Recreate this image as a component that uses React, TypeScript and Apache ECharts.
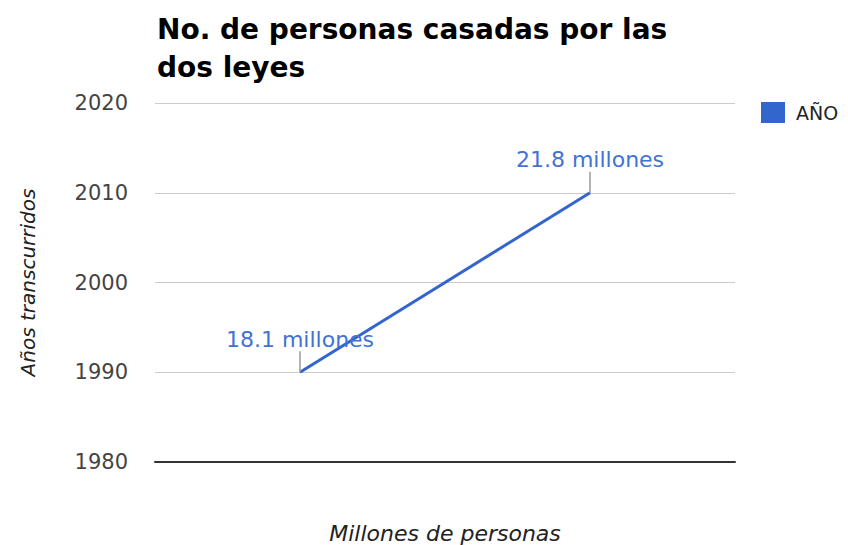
import React, { useEffect, useRef } from "react";
import * as echarts from "echarts";

const titleText = "No. de personas casadas por las\ndos leyes";
const categories = ["18.1 millones", "21.8 millones"];
const years = [1990, 2010];
const annotations = ["18.1 millones", "21.8 millones"];
const seriesName = "AÑO";
const yMin = 1980;
const yMax = 2020;
const yStep = 10;

export default function App() {
  const ref = useRef<HTMLDivElement>(null);
  useEffect(() => {
    document.body.style.margin = "0";
    if (!ref.current) return;
    const chart = echarts.init(ref.current, undefined, { renderer: "svg" });
    const blue = "#3366cc";
    chart.setOption({
      animation: false,
      backgroundColor: "#ffffff",
      title: {
        text: titleText,
        left: 152,
        top: 5,
        textStyle: {
          fontFamily: "DejaVu Sans",
          fontWeight: "bold",
          fontSize: 28,
          lineHeight: 38,
          color: "#000000",
        },
      },
      legend: {
        data: [seriesName],
        left: 761,
        top: 102,
        padding: 0,
        icon: "rect",
        itemWidth: 24,
        itemHeight: 21,
        textStyle: {
          fontFamily: "DejaVu Sans",
          fontSize: 19,
          color: "#222222",
          padding: [0, 0, 0, 6],
        },
      },
      grid: {
        left: 155,
        right: 113,
        top: 103,
        bottom: 83,
        containLabel: false,
        outerBoundsMode: "none",
      },
      xAxis: {
        type: "category",
        data: categories,
        boundaryGap: true,
        axisTick: { show: false },
        axisLabel: { show: false },
        axisLine: { show: true, lineStyle: { color: "#333333", width: 2 } },
        name: "Millones de personas",
        nameLocation: "middle",
        nameGap: 60,
        nameTextStyle: {
          fontFamily: "DejaVu Sans",
          fontStyle: "italic",
          fontSize: 22,
          color: "#222222",
        },
      },
      yAxis: {
        type: "value",
        min: yMin,
        max: yMax,
        interval: yStep,
        axisLine: { show: false },
        axisTick: { show: false },
        splitLine: { show: true, lineStyle: { color: "#cccccc", width: 1 } },
        axisLabel: {
          fontFamily: "DejaVu Sans",
          fontSize: 21,
          color: "#444444",
          margin: 27,
          formatter: (v: number) => String(v),
        },
        name: "Años transcurridos",
        nameLocation: "middle",
        nameGap: 117,
        nameTextStyle: {
          fontFamily: "DejaVu Sans",
          fontStyle: "italic",
          fontSize: 20,
          color: "#222222",
        },
      },
      series: [
        {
          name: seriesName,
          type: "line",
          data: years,
          color: blue,
          lineStyle: { color: blue, width: 3 },
          showSymbol: false,
          symbol: "none",
        },
        {
          type: "custom",
          data: years.map((y, i) => [i, y, annotations[i]]),
          silent: true,
          z: 5,
          renderItem: (params: any, api: any) => {
            const idx = params.dataIndex;
            const pt = api.coord([api.value(0), api.value(1)]);
            const stem = 21;
            return {
              type: "group",
              children: [
                {
                  type: "line",
                  shape: { x1: pt[0], y1: pt[1], x2: pt[0], y2: pt[1] - stem },
                  style: { stroke: "#999999", lineWidth: 1.5 },
                },
                {
                  type: "text",
                  x: pt[0],
                  y: pt[1] - stem - 12,
                  style: {
                    text: annotations[idx],
                    fill: "#4172d4",
                    font: "22px 'DejaVu Sans'",
                    align: "center",
                    verticalAlign: "middle",
                  },
                },
              ],
            };
          },
        },
      ],
    });
    return () => chart.dispose();
  }, []);
  return <div ref={ref} style={{ width: 848, height: 545 }} />;
}
